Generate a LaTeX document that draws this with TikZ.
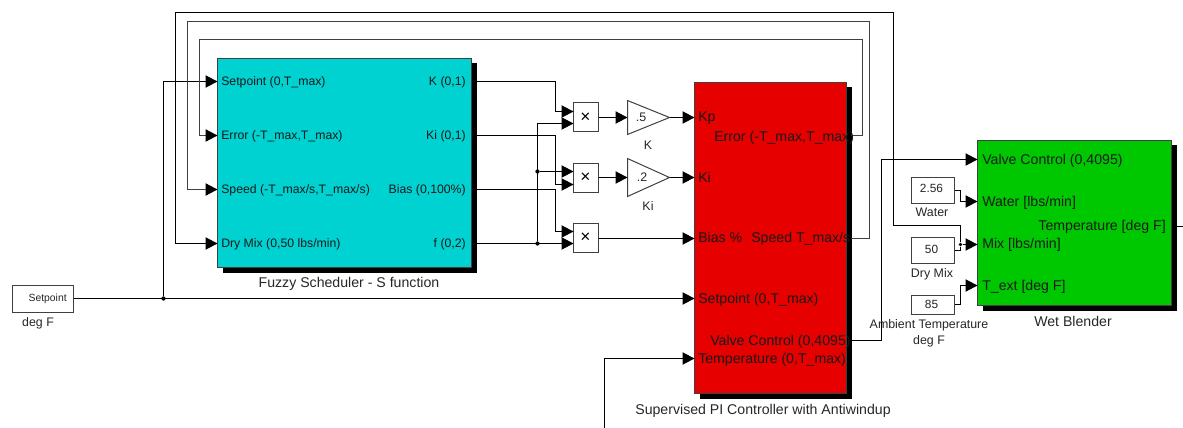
\documentclass[tikz,border=0pt]{standalone}
\usepackage{fontspec}
\setmainfont{Liberation Sans}
\usetikzlibrary{arrows.meta,shadows}
\definecolor{cyanblk}{HTML}{00D2D2}
\definecolor{redblk}{HTML}{E60000}
\definecolor{greenblk}{HTML}{00C800}
\definecolor{wiregray}{HTML}{404040}
\tikzset{
  tipfill/.tip={Triangle[length=9pt,width=9.2pt,black]},
  wire/.style={draw=black,line width=0.85pt,line join=miter},
  fbwire/.style={draw=wiregray,line width=1pt,-tipfill},
  arrowwire/.style={wire,-tipfill},
  bigblk/.style={draw=wiregray,line width=0.75pt,anchor=north west,inner sep=0pt,outer sep=0pt,
    general shadow={fill=black,shadow xshift=3.75pt,shadow yshift=-3.75pt}},
  smallblk/.style={draw=wiregray,fill=white,line width=0.75pt,anchor=north west,inner sep=0pt,outer sep=0pt},
  gainblk/.style={draw=wiregray,fill=white,line width=0.75pt},
  jdot/.style={circle,fill=black,inner sep=0pt,minimum size=3.2pt},
  txtbase/.style={inner sep=0pt,text height=7.7pt,text depth=1pt},
  lab/.style={txtbase,font=\fontsize{9.2pt}{10pt}\selectfont,text=black!90},
  labr/.style={txtbase,font=\fontsize{10.6pt}{11pt}\selectfont,text=black!90},
  captxt/.style={txtbase,font=\fontsize{10.6pt}{11pt}\selectfont,text=black!85},
  subtxt/.style={txtbase,font=\fontsize{9.3pt}{10pt}\selectfont,text=black!85},
  tinytxt/.style={txtbase,font=\fontsize{7.8pt}{8pt}\selectfont,text=black!85},
  valtxt/.style={txtbase,font=\fontsize{8.9pt}{9pt}\selectfont,text=black!85},
  multtxt/.style={inner sep=0pt,font=\fontsize{13pt}{13pt}\selectfont},
}
\begin{document}
\begin{tikzpicture}[x=0.75pt,y=-0.75pt]
\useasboundingbox (0,0) rectangle (1183,428);
% blocks
\node[bigblk,fill=cyanblk,minimum width=190.5pt,minimum height=156.75pt] (fuzzy) at (217.5,58.5) {};
\node[bigblk,fill=redblk,minimum width=114pt,minimum height=233.25pt] (pi) at (694.5,82.5) {};
\node[bigblk,fill=greenblk,minimum width=145.5pt,minimum height=123.75pt] (wet) at (977.5,140.5) {};
\node[smallblk,minimum width=45.75pt,minimum height=20.25pt] (sp) at (12.5,285.5) {};
\node[smallblk,minimum width=18.75pt,minimum height=21.75pt] (m1) at (573.5,102.5) {};
\node[smallblk,minimum width=18.75pt,minimum height=21.75pt] (m2) at (573.5,163.5) {};
\node[smallblk,minimum width=18.75pt,minimum height=21.75pt] (m3) at (573.5,223.5) {};
\node[smallblk,minimum width=32.25pt,minimum height=19.5pt] (water) at (911.5,177.5) {};
\node[smallblk,minimum width=32.25pt,minimum height=19.5pt] (dry) at (911.5,237.5) {};
\node[smallblk,minimum width=32.25pt,minimum height=14.25pt] (amb) at (911.5,295.5) {};
\draw[gainblk] (627.5,100.5) coordinate (k1) -- (669.5,117.5) coordinate (kout) -- (627.5,134.5) coordinate (k2) -- cycle;
\draw[gainblk] (627.5,158.5) coordinate (i1) -- (669.5,177.5) coordinate (iout) -- (627.5,196.5) coordinate (i2) -- cycle;
\coordinate (kin) at (627.5,117.5);
\coordinate (iin) at (627.5,177.5);
% ports
\foreach \n/\y in {fa/81.5,fb/135.5,fc/189.5,fd/243.5}{\coordinate (\n) at (217.5,\y);}
\foreach \n/\y in {fo1/81.5,fo2/135.5,fo3/189.5,fo4/243.5}{\coordinate (\n) at (476,\y);}
\foreach \n/\y in {pkp/117.5,pki/177.5,pbias/238.5,psp/298.5,ptemp/358.5}{\coordinate (\n) at (694.5,\y);}
\foreach \n/\y in {perr/135.5,pspd/238.5,pvalve/340.5}{\coordinate (\n) at (851,\y);}
\foreach \n/\y in {wv/159.5,ww/201.5,wm/244.5,wt/285.5}{\coordinate (\n) at (977.5,\y);}
\coordinate (wout) at (1176,226.5);
\coordinate (offr) at (1183,226.5);
\coordinate (offb) at (604.5,428);
\coordinate (m1a) at (573.5,111.5);
\coordinate (m1b) at (573.5,123.5);
\coordinate (m2a) at (573.5,171.5);
\coordinate (m2b) at (573.5,184.5);
\coordinate (m3a) at (573.5,231.5);
\coordinate (m3b) at (573.5,243.5);
\coordinate (wbend) at (960.5,190.5);
\coordinate (dbend) at (960.5,250.5);
\coordinate (abend) at (960.5,304.5);
% setpoint
\coordinate (spo) at (73.5,298.5);
\node[jdot] (j1) at (163.5,298.5) {};
\draw[arrowwire] (spo) -- (psp);
\draw[arrowwire] (j1) -- (163.5,81.5) -- (fa);
% feedback
\draw[fbwire] (perr) -- (862.5,135.5) -- (862.5,39.5) -- (199.5,39.5) -- (199.5,135.5) -- (fb);
\draw[fbwire] (pspd) -- (869.5,238.5) -- (869.5,21.5) -- (187.5,21.5) -- (187.5,189.5) -- (fc);
\node[jdot,minimum size=2.8pt] (j4) at (960.5,244.5) {};
\draw[arrowwire] (j4) -- (960.5,225.5) -- (893.5,225.5) -- (893.5,12.5) -- (175.5,12.5) -- (175.5,243.5) -- (fd);
% multipliers in
\draw[arrowwire] (fo1) -- (555.5,81.5) -- (555.5,111.5) -- (m1a);
\draw[arrowwire] (fo2) -- (555.5,135.5) -- (555.5,184.5) -- (m2b);
\draw[arrowwire] (fo3) -- (555.5,189.5) -- (555.5,231.5) -- (m3a);
\draw[arrowwire] (fo4) -- (m3b);
\node[jdot] (j2) at (537.5,243.5) {};
\node[jdot] (j3) at (537.5,171.5) {};
\draw[arrowwire] (j2) -- (537.5,123.5) -- (m1b);
\draw[arrowwire] (j3) -- (m2a);
% multipliers out
\draw[arrowwire] (m1.east |- kin) -- (kin);
\draw[arrowwire] (m2.east |- iin) -- (iin);
\draw[arrowwire] (kout) -- (pkp);
\draw[arrowwire] (iout) -- (pki);
\draw[arrowwire] (m3.east |- pbias) -- (pbias);
% right
\draw[arrowwire] (pvalve) -- (881.5,340.5) -- (881.5,159.5) -- (wv);
\draw[arrowwire] (water.east |- wbend) -- (wbend) -- (960.5,201.5) -- (ww);
\draw[arrowwire] (dry.east |- dbend) -- (dbend) -- (j4) -- (wm);
\draw[arrowwire] (amb.east |- abend) -- (abend) -- (960.5,285.5) -- (wt);
\draw[wire] (wout) -- (offr);
\draw[arrowwire] (offb) -- (604.5,358.5) -- (ptemp);
% labels: fuzzy
\node[lab,anchor=west] (l1) at (221,81) {Setpoint (0,T\_max)};
\node[lab,anchor=west] (l2) at (221,135) {Error (-T\_max,T\_max)};
\node[lab,anchor=west] (l3) at (221,189) {Speed (-T\_max/s,T\_max/s)};
\node[lab,anchor=west] (l4) at (221,243) {Dry Mix (0,50 lbs/min)};
\node[lab,anchor=east] (l5) at (466,81) {K (0,1)};
\node[lab,anchor=east] (l6) at (466,135) {Ki (0,1)};
\node[lab,anchor=east] (l7) at (466,189) {Bias (0,100\%)};
\node[lab,anchor=east] (l8) at (466,243) {f (0,2)};
\node[captxt] (c1) at (349,283) {Fuzzy Scheduler - S function};
% labels: pi
\node[labr,anchor=west] (r1) at (698,117) {Kp};
\node[labr,anchor=west] (r2) at (714,137) {Error (-T\_max,T\_max)};
\node[labr,anchor=west] (r3) at (698,178) {Ki};
\node[labr,anchor=west] (r4) at (698,238) {Bias \%};
\node[labr,anchor=west] (r5) at (751,238) {Speed T\_max/s};
\node[labr,anchor=west] (r6) at (698,299) {Setpoint (0,T\_max)};
\node[labr,anchor=west] (r7) at (710,341) {Valve Control (0,4095)};
\node[labr,anchor=west] (r8) at (698,359) {Temperature (0,T\_max)};
\node[captxt] (c2) at (763,410) {Supervised PI Controller with Antiwindup};
% labels: wet
\node[labr,anchor=west] (w1) at (982,160) {Valve Control (0,4095)};
\node[labr,anchor=west] (w2) at (982,202) {Water [lbs/min]};
\node[labr,anchor=west] (w3) at (982,244) {Mix [lbs/min]};
\node[labr,anchor=west] (w4) at (982,286) {T\_ext [deg F]};
\node[labr,anchor=east] (w5) at (1166,226) {Temperature [deg F]};
\node[captxt] (c3) at (1073,322) {Wet Blender};
% small
\node[tinytxt,anchor=east] (s1) at (67,297) {Setpoint};
\node[subtxt] (s2) at (38,322) {deg F};
\node[valtxt] (v1) at (931.5,188.5) {2.56};
\node[valtxt] (v2) at (931.5,249) {50};
\node[valtxt] (v3) at (931.5,304) {85};
\node[subtxt] (s3) at (932,212) {Water};
\node[subtxt] (s4) at (932,273) {Dry Mix};
\node[subtxt] (s5) at (929,324) {Ambient Temperature};
\node[subtxt] (s6) at (929,340) {deg F};
\node[subtxt] (g1) at (641,117) {.5};
\node[subtxt] (g2) at (642,177) {.2};
\node[subtxt] (g3) at (648,145) {K};
\node[subtxt] (g4) at (648,206) {Ki};
\node[multtxt] (x1) at (585.5,117.5) {×};
\node[multtxt] (x2) at (585.5,178) {×};
\node[multtxt] (x3) at (585.5,238) {×};
\end{tikzpicture}
\end{document}
